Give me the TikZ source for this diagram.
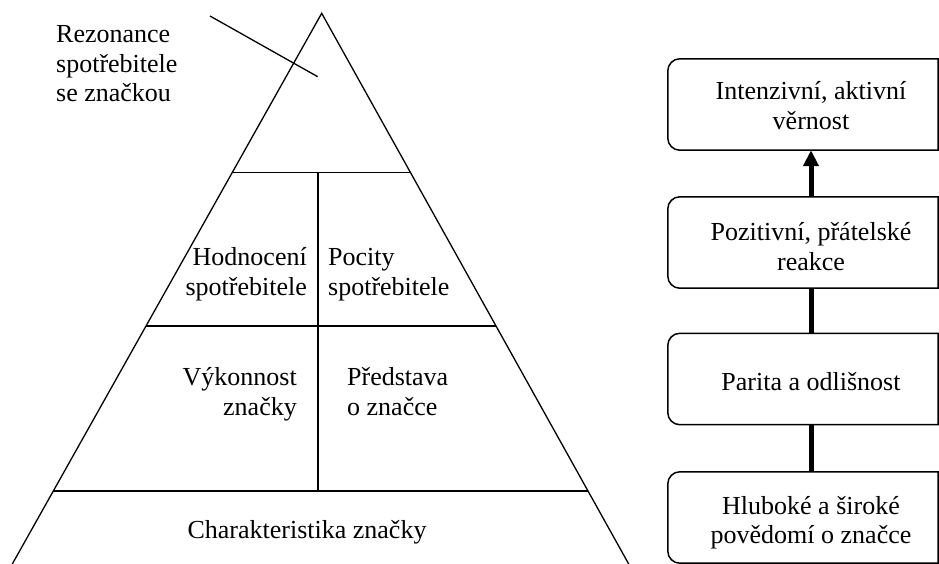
\documentclass[tikz,border=0pt]{standalone}
\usepackage{fontspec}
\setmainfont{Liberation Serif}
\usetikzlibrary{calc,arrows.meta}
\begin{document}
\begin{tikzpicture}[x=1pt,y=-1pt,
  every node/.style={font=\fontsize{26}{29.5}\selectfont, inner sep=0pt},
  pyr/.style={line width=1.3pt, line join=miter},
  boxline/.style={line width=1.5pt},
  stagebox/.style={minimum width=286pt, minimum height=91pt},
  stagetext/.style={anchor=base, align=center},
  conn/.style={line width=5pt},
  lbl/.style={anchor=base west, align=left},
  lblr/.style={anchor=base east, align=right}]
\useasboundingbox (0,0) rectangle (939,564);

% ---------- pyramid ----------
\coordinate (A)  at (321.7,13.3);
\coordinate (BL) at (12.3,564);
\coordinate (BR) at (628.7,564);
\coordinate (L1) at ($(A)!0.2891!(BL)$);
\coordinate (R1) at ($(A)!0.2891!(BR)$);
\coordinate (L2) at ($(A)!0.5678!(BL)$);
\coordinate (R2) at ($(A)!0.5678!(BR)$);
\coordinate (L3) at ($(A)!0.8674!(BL)$);
\coordinate (R3) at ($(A)!0.8674!(BR)$);
\coordinate (D1) at (318,172.5);
\coordinate (D2) at (318,491);
\coordinate (P1) at (210,16);
\coordinate (P2) at (317.7,76.7);

\draw[pyr] (BL) -- (A) -- (BR);
\draw[pyr] (L1) -- (R1);
\draw[pyr] (L2) -- (R2);
\draw[pyr] (L3) -- (R3);
\draw[pyr] (D1 |- L1) -- (D2 |- L3);
\draw[pyr] (P1) -- (P2);

% multi-line labels sit on the baseline of their last line
\node[lbl] (rez) at (56,102) {Rezonance\\spotřebitele\\se značkou};
\node[lblr] (hod) at (307,295) {Hodnocení\\spotřebitele};
\node[lbl] (poc) at (328,295) {Pocity\\spotřebitele};
\node[lblr] (vyk) at (297,415) {Výkonnost\\značky};
\node[lbl] (pre) at (347,415) {Představa\\o značce};
\node[anchor=base] (cha) at (307,538) {Charakteristika značky};

% ---------- stages ----------
\coordinate (edge) at (938,0);
\node[stagebox] (b1) at (811,104.5) {};
\node[stagebox] (b2) at (811,242.5) {};
\node[stagebox] (b3) at (811,379) {};
\node[stagebox] (b4) at (811,517.5) {};

\node[stagetext] (t1) at (811,129.5) {Intenzivní, aktivní\\věrnost};
\node[stagetext] (t2) at (811,270) {Pozitivní, přátelské\\reakce};
\node[stagetext] (t3) at (811,390) {Parita a odlišnost};
\node[stagetext] (t4) at (811,543.5) {Hluboké a široké\\povědomí o značce};

\foreach \b in {b1,b2,b3,b4}{
  \draw[boxline] (\b.north -| edge) -- ($(\b.north west)+(12,0)$)
    arc[start angle=270,end angle=180,radius=12]
    -- ($(\b.south west)+(0,-12)$)
    arc[start angle=180,end angle=90,radius=12]
    -- (\b.south -| edge) -- cycle;
}

\draw[conn,-{Triangle[length=16pt,width=15pt]}] (b2.north) -- (b1.south);
\draw[conn] (b3.north) -- (b2.south);
\draw[conn] (b4.north) -- (b3.south);
\end{tikzpicture}
\end{document}
